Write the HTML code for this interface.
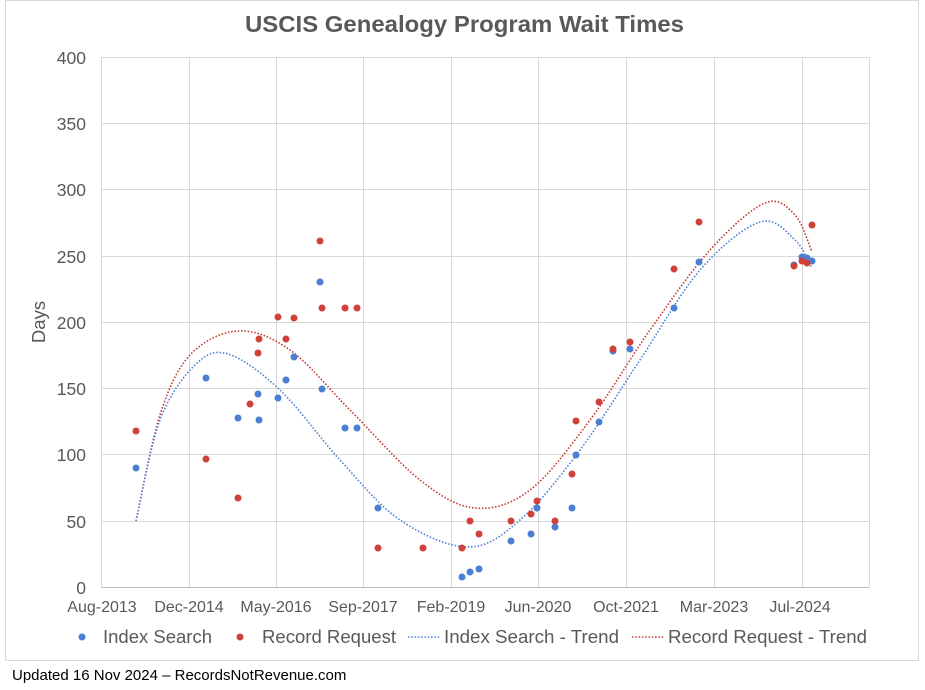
<!DOCTYPE html>
<html><head><meta charset="utf-8"><style>
body{margin:0;background:#fff;}
svg{display:block;font-family:"Liberation Sans",Arial,sans-serif;}
</style></head><body>
<svg width="925" height="690" viewBox="0 0 925 690">
<rect x="5.5" y="0.5" width="913" height="660" fill="#fff" stroke="#d9d9d9"/>
<text x="245" y="32" textLength="439" lengthAdjust="spacingAndGlyphs" font-size="23.5" font-weight="bold" fill="#595959">USCIS Genealogy Program Wait Times</text>
<g stroke="#d9d9d9" stroke-width="1">
<line x1="101" y1="57.5" x2="869" y2="57.5"/><line x1="101" y1="123.5" x2="869" y2="123.5"/><line x1="101" y1="189.5" x2="869" y2="189.5"/><line x1="101" y1="256.5" x2="869" y2="256.5"/><line x1="101" y1="322.5" x2="869" y2="322.5"/><line x1="101" y1="388.5" x2="869" y2="388.5"/><line x1="101" y1="454.5" x2="869" y2="454.5"/><line x1="101" y1="521.5" x2="869" y2="521.5"/>
<line x1="101.5" y1="57" x2="101.5" y2="587"/><line x1="189.5" y1="57" x2="189.5" y2="587"/><line x1="276.5" y1="57" x2="276.5" y2="587"/><line x1="363.5" y1="57" x2="363.5" y2="587"/><line x1="451.5" y1="57" x2="451.5" y2="587"/><line x1="538.5" y1="57" x2="538.5" y2="587"/><line x1="626.5" y1="57" x2="626.5" y2="587"/><line x1="714.5" y1="57" x2="714.5" y2="587"/><line x1="802.5" y1="57" x2="802.5" y2="587"/><line x1="869.5" y1="57" x2="869.5" y2="587"/>
<line x1="101" y1="587.5" x2="869" y2="587.5" stroke="#bfbfbf"/>
</g>
<g font-size="17.5" fill="#595959" text-anchor="end">
<text x="86" y="64">400</text><text x="86" y="130">350</text><text x="86" y="196">300</text><text x="86" y="263">250</text><text x="86" y="329">200</text><text x="86" y="395">150</text><text x="86" y="461">100</text><text x="86" y="528">50</text><text x="86" y="594">0</text>
</g>
<text transform="translate(45,322) rotate(-90)" text-anchor="middle" font-size="18.5" fill="#595959">Days</text>
<g font-size="16" fill="#595959" text-anchor="middle">
<text x="102" y="612">Aug-2013</text><text x="189" y="612">Dec-2014</text><text x="276" y="612">May-2016</text><text x="363" y="612">Sep-2017</text><text x="451" y="612">Feb-2019</text><text x="538" y="612">Jun-2020</text><text x="626" y="612">Oct-2021</text><text x="714" y="612">Mar-2023</text><text x="800" y="612">Jul-2024</text>
</g>
<path id="rt" fill="none" stroke="#c0392b" stroke-width="1.6" stroke-dasharray="1.5 1.8"/>
<path id="bt" fill="none" stroke="#4a7fd4" stroke-width="1.6" stroke-dasharray="1.5 1.8"/>
<g fill="#4a7fd4">
<circle cx="136" cy="468" r="3.5"/><circle cx="206" cy="378" r="3.5"/><circle cx="238" cy="418" r="3.5"/><circle cx="258" cy="394" r="3.5"/><circle cx="259" cy="420" r="3.5"/><circle cx="278" cy="398" r="3.5"/><circle cx="286" cy="380" r="3.5"/><circle cx="294" cy="357" r="3.5"/><circle cx="320" cy="282" r="3.5"/><circle cx="322" cy="389" r="3.5"/><circle cx="345" cy="428" r="3.5"/><circle cx="357" cy="428" r="3.5"/><circle cx="378" cy="508" r="3.5"/><circle cx="462" cy="577" r="3.5"/><circle cx="470" cy="572" r="3.5"/><circle cx="479" cy="569" r="3.5"/><circle cx="511" cy="541" r="3.5"/><circle cx="531" cy="534" r="3.5"/><circle cx="537" cy="508" r="3.5"/><circle cx="555" cy="527" r="3.5"/><circle cx="572" cy="508" r="3.5"/><circle cx="576" cy="455" r="3.5"/><circle cx="599" cy="422" r="3.5"/><circle cx="613" cy="351" r="3.5"/><circle cx="630" cy="349" r="3.5"/><circle cx="674" cy="308" r="3.5"/><circle cx="699" cy="262" r="3.5"/><circle cx="794" cy="265" r="3.5"/><circle cx="802" cy="257" r="3.5"/><circle cx="807" cy="258" r="3.5"/><circle cx="812" cy="261" r="3.5"/>
</g>
<g fill="#d0413a">
<circle cx="136" cy="431" r="3.5"/><circle cx="206" cy="459" r="3.5"/><circle cx="238" cy="498" r="3.5"/><circle cx="250" cy="404" r="3.5"/><circle cx="258" cy="353" r="3.5"/><circle cx="259" cy="339" r="3.5"/><circle cx="278" cy="317" r="3.5"/><circle cx="286" cy="339" r="3.5"/><circle cx="294" cy="318" r="3.5"/><circle cx="320" cy="241" r="3.5"/><circle cx="322" cy="308" r="3.5"/><circle cx="345" cy="308" r="3.5"/><circle cx="357" cy="308" r="3.5"/><circle cx="378" cy="548" r="3.5"/><circle cx="423" cy="548" r="3.5"/><circle cx="462" cy="548" r="3.5"/><circle cx="470" cy="521" r="3.5"/><circle cx="479" cy="534" r="3.5"/><circle cx="511" cy="521" r="3.5"/><circle cx="531" cy="514" r="3.5"/><circle cx="537" cy="501" r="3.5"/><circle cx="555" cy="521" r="3.5"/><circle cx="572" cy="474" r="3.5"/><circle cx="576" cy="421" r="3.5"/><circle cx="599" cy="402" r="3.5"/><circle cx="613" cy="349" r="3.5"/><circle cx="630" cy="342" r="3.5"/><circle cx="674" cy="269" r="3.5"/><circle cx="699" cy="222" r="3.5"/><circle cx="794" cy="266" r="3.5"/><circle cx="802" cy="261" r="3.5"/><circle cx="807" cy="263" r="3.5"/><circle cx="812" cy="225" r="3.5"/>
</g>
<g font-size="18.5" fill="#595959">
<circle cx="82" cy="637" r="3.5" fill="#4a7fd4"/><text x="103" y="643" textLength="109" lengthAdjust="spacingAndGlyphs">Index Search</text>
<circle cx="240" cy="637" r="3.5" fill="#d0413a"/><text x="262" y="643" textLength="134" lengthAdjust="spacingAndGlyphs">Record Request</text>
<line x1="408" y1="637" x2="440" y2="637" stroke="#4a7fd4" stroke-width="1.6" stroke-dasharray="1.5 1.8"/><text x="444" y="643" textLength="175" lengthAdjust="spacingAndGlyphs">Index Search - Trend</text>
<line x1="632" y1="637" x2="664" y2="637" stroke="#c0392b" stroke-width="1.6" stroke-dasharray="1.5 1.8"/><text x="668" y="643" textLength="199" lengthAdjust="spacingAndGlyphs">Record Request - Trend</text>
</g>
<text x="12" y="680" font-size="15" fill="#000" font-family="'Liberation Sans Narrow','Liberation Sans',sans-serif">Updated 16 Nov 2024 – RecordsNotRevenue.com</text>
</svg>
<script>
function cr(p){var d="M"+p[0][0]+","+p[0][1];for(var i=0;i<p.length-1;i++){var a=p[i-1]||p[i],b=p[i],c=p[i+1],e=p[i+2]||c;
d+=" C"+(b[0]+(c[0]-a[0])/6)+","+(b[1]+(c[1]-a[1])/6)+" "+(c[0]-(e[0]-b[0])/6)+","+(c[1]-(e[1]-b[1])/6)+" "+c[0]+","+c[1];}return d;}
document.getElementById("rt").setAttribute("d",cr([[136,521],[160,415],[190,355],[238,331],[290,350],[350,410],[420,480],[475,508],[530,490],[590,420],[650,330],[710,250],[765,203],[795,215],[812,252]]));
document.getElementById("bt").setAttribute("d",cr([[136,521],[160,420],[195,365],[228,354],[280,390],[340,460],[400,520],[468,547],[520,520],[580,450],[640,360],[700,270],[760,222],[795,240],[812,268]]));
</script>
</body></html>
